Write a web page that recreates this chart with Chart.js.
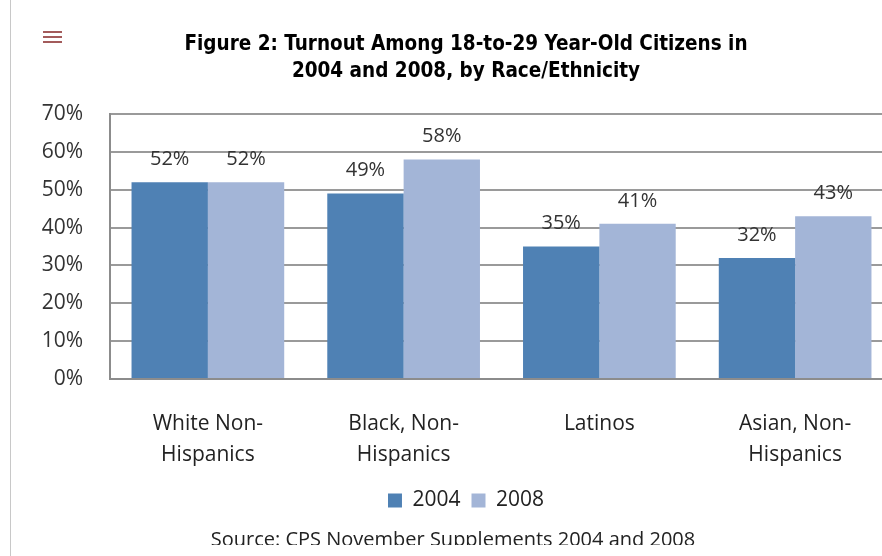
<!DOCTYPE html>
<html>
<head>
<meta charset="utf-8">
<script src="https://cdn.jsdelivr.net/npm/chart.js@4.4.1/dist/chart.umd.min.js"></script>
<style>
  html, body { margin: 0; padding: 0; background: #fff; width: 882px; height: 556px; overflow: hidden; }
  .rule { position: absolute; left: 10px; top: 0; width: 1px; height: 556px; background: #c8c8c8; }
  .menu { position: absolute; left: 43px; top: 31px; width: 19px; }
  .menu span { display: block; height: 2px; background: #a35b5b; margin-bottom: 3px; }
  .wrap { position: absolute; left: 12px; top: 0; width: 908px; height: 547px; overflow: hidden; }
  .source { position: absolute; left: 0; top: 530px; width: 906px; height: 15px; overflow: hidden; }
  .source div { margin-top: -1px; font: 20px/20px 'Open Sans', sans-serif; color: #222; text-align: center; white-space: nowrap; }
</style>
</head>
<body>
<div class="rule"></div>
<div class="menu"><span></span><span></span><span></span></div>
<div class="wrap"><canvas id="turnoutChart" width="908" height="556"></canvas></div>
<div class="source"><div>Source: CPS November Supplements 2004 and 2008</div></div>
<script>
const categories = [['White Non-', 'Hispanics'], ['Black, Non-', 'Hispanics'], 'Latinos', ['Asian, Non-', 'Hispanics']];
const turnout2004 = [52, 49, 35, 32];
const turnout2008 = [52, 58, 41, 43];
const yTicks = [0, 10, 20, 30, 40, 50, 60, 70];

const textFont = "'Open Sans', sans-serif";

// value labels above each bar
const barLabels = {
    id: 'barLabels',
    afterDatasetsDraw(chart) {
        const ctx = chart.ctx;
        ctx.save();
        ctx.font = "20px " + textFont;
        ctx.fillStyle = '#333';
        ctx.textAlign = 'center';
        ctx.textBaseline = 'middle';
        chart.data.datasets.forEach((ds, i) => {
            chart.getDatasetMeta(i).data.forEach((bar, j) => {
                ctx.fillText(ds.data[j] + '%', bar.x, bar.y - 23);
            });
        });
        ctx.restore();
    }
};

const ctx = document.getElementById('turnoutChart').getContext('2d');
new Chart(ctx, {
    type: 'bar',
    data: {
        labels: categories,
        datasets: [{
            label: '2004',
            data: turnout2004,
            backgroundColor: '#4f81b4'
        }, {
            label: '2008',
            data: turnout2008,
            backgroundColor: '#a3b5d7'
        }]
    },
    options: {
        responsive: false,
        animation: false,
        layout: { padding: { left: 27, right: 27, top: 0, bottom: 35 } },
        datasets: { bar: { categoryPercentage: 0.78, barPercentage: 1.0 } },
        scales: {
            x: {
                grid: { display: false, drawTicks: false },
                border: { display: true, color: '#8c8c8c', width: 2 },
                ticks: { color: '#222', padding: 29, font: { family: textFont, size: 21, lineHeight: 1.5 } },
                afterFit(scale) { scale.height = 100; }
            },
            y: {
                min: 0,
                max: 70,
                afterBuildTicks(scale) { scale.ticks = yTicks.map(v => ({ value: v })); },
                grid: { color: '#9a9a9a', lineWidth: 2, drawTicks: false },
                border: { display: true, color: '#8c8c8c', width: 2 },
                ticks: {
                    color: '#333',
                    padding: 27,
                    font: { family: textFont, size: 21 },
                    callback: v => v + '%'
                },
                afterFit(scale) { scale.width = 71; }
            }
        },
        plugins: {
            title: {
                display: true,
                text: ['Figure 2: Turnout Among 18-to-29 Year-Old Citizens in', '2004 and 2008, by Race/Ethnicity'],
                color: '#000',
                font: { family: "'DejaVu Sans Condensed', 'DejaVu Sans', sans-serif", size: 20.5, weight: 'bold', lineHeight: 1.32 },
                padding: { top: 31, bottom: 29 }
            },
            legend: {
                position: 'bottom',
                labels: {
                    color: '#222',
                    boxWidth: 14,
                    boxHeight: 14,
                    padding: 11,
                    font: { family: textFont, size: 21 }
                }
            },
            tooltip: { enabled: false }
        }
    },
    plugins: [barLabels]
});
</script>
</body>
</html>
